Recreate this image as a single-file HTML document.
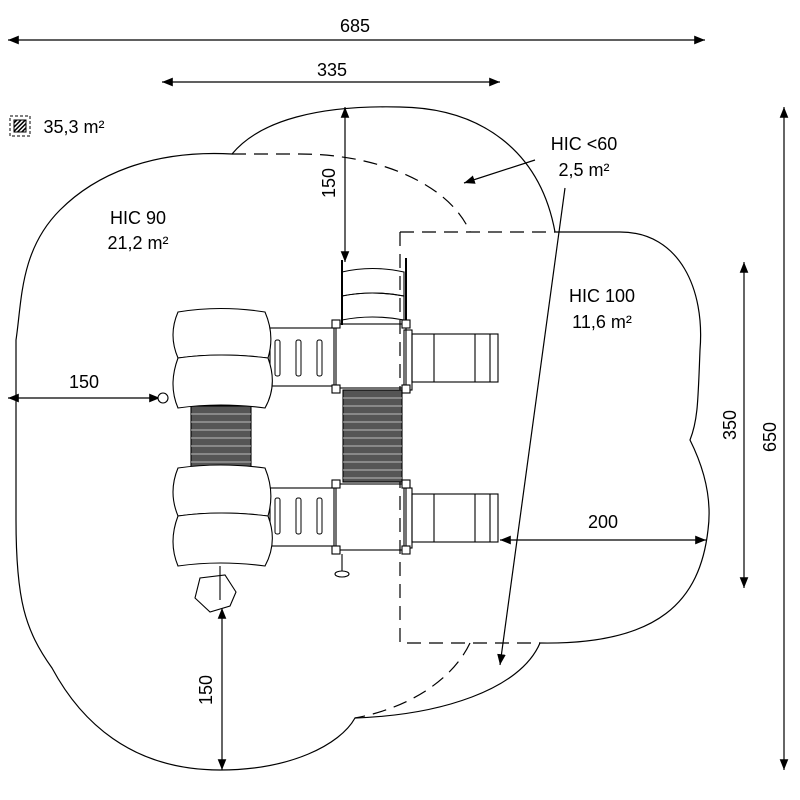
<!DOCTYPE html>
<html><head><style>
html,body{margin:0;padding:0;background:#fff;}
svg{display:block;font-family:"Liberation Sans",sans-serif;}
</style></head><body>
<svg width="800" height="800" viewBox="0 0 800 800" xmlns="http://www.w3.org/2000/svg">
<defs>
<marker id="a" viewBox="0 0 10 10" refX="10" refY="5" markerWidth="9" markerHeight="9" orient="auto-start-reverse"><path d="M0,1 L10,5 L0,9 z" fill="#000"/></marker>
<pattern id="h" width="3" height="3" patternUnits="userSpaceOnUse" patternTransform="rotate(45)"><rect width="1.5" height="3" fill="#000"/></pattern>
</defs>
<g fill="none" stroke="#000" stroke-width="1.2">
<path d="M232,154 C260,120 320,105 400,107 C480,108 540,150 555,232 L620,232 C680,232 705,290 700,350 C698,400 698,420 690,440 C705,470 712,500 708,530 C700,600 660,645 540,643 C520,690 440,715 355,718 C340,745 290,770 220,770 C130,770 80,720 52,668 C25,630 16,600 16,520 L16,340 C22,300 20,250 60,210 C100,170 160,150 232,154 Z"/>
<path d="M232,154 L300,154 C380,154 450,185 470,232" stroke-dasharray="14,8"/>
<path d="M400,232 L555,232 M400,232 L400,643 L540,643" stroke-dasharray="14,8"/>
<path d="M470,643 C450,685 400,710 355,718" stroke-dasharray="14,8"/>
<line x1="8" y1="40" x2="705" y2="40" marker-start="url(#a)" marker-end="url(#a)"/>
<line x1="162" y1="82" x2="500" y2="82" marker-start="url(#a)" marker-end="url(#a)"/>
<line x1="345" y1="107" x2="345" y2="262" marker-start="url(#a)" marker-end="url(#a)"/>
<line x1="8" y1="398" x2="160" y2="398" marker-start="url(#a)" marker-end="url(#a)"/>
<line x1="222" y1="608" x2="222" y2="770" marker-start="url(#a)" marker-end="url(#a)"/>
<line x1="500" y1="540" x2="706" y2="540" marker-start="url(#a)" marker-end="url(#a)"/>
<line x1="744" y1="262" x2="744" y2="588" marker-start="url(#a)" marker-end="url(#a)"/>
<line x1="784" y1="107" x2="784" y2="770" marker-start="url(#a)" marker-end="url(#a)"/>
<line x1="535" y1="160" x2="464" y2="183" marker-end="url(#a)"/>
<line x1="565" y1="188" x2="500" y2="665" marker-end="url(#a)"/>
<g stroke-width="1.1">
<path d="M342,272 Q372,265 404,272 L404,296 Q372,290 342,296 Z"/>
<path d="M342,296 Q372,290 404,296 L404,320 Q372,314 342,320 Z"/>
<line x1="342" y1="260" x2="342" y2="325" stroke-width="2"/>
<line x1="406" y1="258" x2="406" y2="325" stroke-width="2"/>
<rect x="336" y="324" width="70" height="64"/>
<rect x="336" y="484" width="70" height="66"/>
<rect x="270" y="328" width="64" height="58"/>
<rect x="270" y="488" width="64" height="58"/>
<g stroke-width="1">
<rect x="275" y="340" width="5" height="36" rx="2"/><rect x="296" y="340" width="5" height="36" rx="2"/><rect x="317" y="340" width="5" height="36" rx="2"/>
<rect x="275" y="498" width="5" height="36" rx="2"/><rect x="296" y="498" width="5" height="36" rx="2"/><rect x="317" y="498" width="5" height="36" rx="2"/>
</g>
<rect x="412" y="334" width="86" height="48"/>
<line x1="434" y1="334" x2="434" y2="382"/><line x1="475" y1="334" x2="475" y2="382"/><line x1="490" y1="334" x2="490" y2="382"/>
<rect x="412" y="494" width="86" height="48"/>
<line x1="434" y1="494" x2="434" y2="542"/><line x1="475" y1="494" x2="475" y2="542"/><line x1="490" y1="494" x2="490" y2="542"/>
<rect x="404" y="330" width="8" height="60"/><rect x="404" y="488" width="8" height="60"/>
<g fill="#fff"><rect x="332" y="320" width="8" height="8"/><rect x="402" y="320" width="8" height="8"/><rect x="332" y="385" width="8" height="8"/><rect x="402" y="385" width="8" height="8"/><rect x="332" y="480" width="8" height="8"/><rect x="402" y="480" width="8" height="8"/><rect x="332" y="546" width="8" height="8"/><rect x="402" y="546" width="8" height="8"/></g>
<rect x="343" y="390" width="59" height="92" fill="#555"/>
<rect x="191" y="406" width="60" height="62" fill="#555"/>
<g stroke="#bbb" stroke-width="1"><path d="M343,398H402M343,406H402M343,414H402M343,422H402M343,430H402M343,438H402M343,446H402M343,454H402M343,462H402M343,470H402M343,478H402"/>
<path d="M191,414H251M191,422H251M191,430H251M191,438H251M191,446H251M191,454H251M191,462H251"/></g>
<g fill="#fff">
<path d="M178,312 Q220,305 265,312 Q275,335 268,358 Q220,352 178,358 Q168,335 178,312 Z"/>
<path d="M178,358 Q220,352 268,358 Q278,385 265,408 Q220,402 178,408 Q168,385 178,358 Z"/>
<path d="M178,468 Q220,462 265,468 Q275,492 268,516 Q220,510 178,516 Q168,492 178,468 Z"/>
<path d="M178,516 Q220,510 268,516 Q278,542 265,566 Q220,560 178,566 Q168,542 178,516 Z"/>
</g>
<path d="M200,578 L195,598 L210,612 L230,606 L236,592 L225,575 Z" fill="#fff"/>
<line x1="220" y1="566" x2="220" y2="600"/>
<circle cx="163" cy="398" r="5" fill="#fff"/>
<line x1="342" y1="554" x2="342" y2="572"/><ellipse cx="342" cy="574" rx="7" ry="3" fill="#fff"/>
</g>
</g>
<rect x="10" y="116" width="20" height="20" fill="none" stroke="#000" stroke-dasharray="3,2"/>
<rect x="14" y="120" width="12" height="12" fill="url(#h)" stroke="#000"/>
<g font-size="18" fill="#000" text-anchor="middle">
<text x="355" y="32">685</text>
<text x="332" y="76">335</text>
<text x="74" y="133">35,3 m²</text>
<text x="138" y="224">HIC 90</text>
<text x="138" y="249">21,2 m²</text>
<text x="584" y="150">HIC &lt;60</text>
<text x="584" y="176">2,5 m²</text>
<text x="602" y="302">HIC 100</text>
<text x="602" y="328">11,6 m²</text>
<text x="84" y="388">150</text>
<text x="603" y="528">200</text>
<text transform="translate(335,183) rotate(-90)">150</text>
<text transform="translate(212,690) rotate(-90)">150</text>
<text transform="translate(736,425) rotate(-90)">350</text>
<text transform="translate(776,437) rotate(-90)">650</text>
</g>
</svg>
</body></html>
